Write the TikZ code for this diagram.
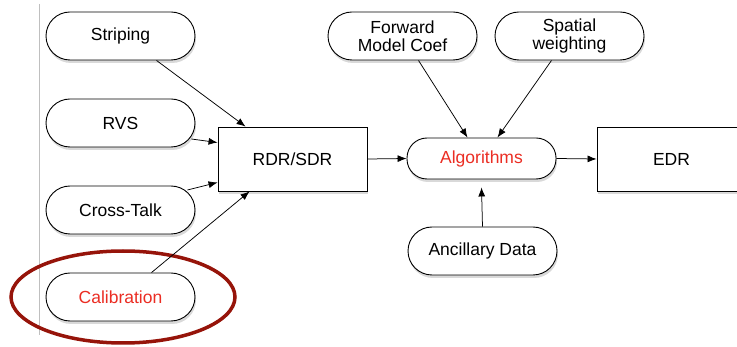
\documentclass[tikz,border=0pt]{standalone}
\usepackage{fontspec}
\setmainfont{Liberation Sans}
\usetikzlibrary{shadows,arrows.meta}
\definecolor{calred}{RGB}{235,45,35}
\definecolor{ringred}{RGB}{150,20,10}
\begin{document}
\begin{tikzpicture}[x=1pt,y=-1pt,
  every node/.style={font=\fontsize{17.5}{20}\selectfont},
  pill/.style={draw, fill=white, line width=0.9pt, rounded corners=24pt, minimum width=149pt, minimum height=48pt, inner sep=0pt, align=center, drop shadow={opacity=0.3, shadow xshift=1pt, shadow yshift=-3pt}},
  box/.style={draw, fill=white, line width=0.9pt, minimum width=149pt, minimum height=64pt, inner sep=0pt, drop shadow={opacity=0.3, shadow xshift=1pt, shadow yshift=-3pt}},
  arr/.style={-{Latex[length=9pt,width=7pt]}, line width=0.75pt}]
\useasboundingbox (0,0) rectangle (737,347);
\clip (0,0) rectangle (737,347);
\draw[gray!50, line width=0.8pt] (39.5,4) -- (39.5,335);
\node[pill] (str) at (120.5,36) {Striping};
\node[pill] (rvs) at (120.5,123) {RVS};
\node[pill] (ct) at (120.5,210) {Cross-Talk};
\node[pill, text=calred] (cal) at (120.5,297) {Calibration};
\node[box] (rdr) at (292.5,159) {RDR/SDR};
\node[pill, minimum height=41pt, rounded corners=20pt, text=calred] (alg) at (481.5,158.5) {Algorithms};
\node[box] (edr) at (671.5,159) {EDR};
\node[pill] (fwd) at (402.5,36) {Forward\\[-2pt]Model Coef};
\node[pill] (sw) at (569.5,36) {Spatial\\[-2pt]weighting};
\node[pill] (anc) at (482.5,251) {Ancillary Data};
\draw[ringred, line width=3.5pt] (123,297) ellipse [x radius=112, y radius=46];
\draw[arr] ([xshift=36pt]str.south) -- ([xshift=28pt]rdr.north west);
\draw[arr] ([shift={(-4,16)}]rvs.east) -- ([shift={(0,16)}]rdr.north west);
\draw[arr] ([shift={(-8,-20)}]ct.east) -- ([shift={(0,-9)}]rdr.south west);
\draw[arr] ([xshift=31pt]cal.north) -- ([xshift=32pt]rdr.south west);
\draw[arr] (rdr.east) -- (alg.west);
\draw[arr] (alg.east) -- (edr.west);
\draw[arr] ([xshift=16pt]fwd.south) -- ([xshift=-14pt]alg.north);
\draw[arr] ([xshift=-18pt]sw.south) -- ([xshift=16pt]alg.north);
\draw[arr] (anc.north) -- ([yshift=-8pt]alg.south);
\end{tikzpicture}
\end{document}
